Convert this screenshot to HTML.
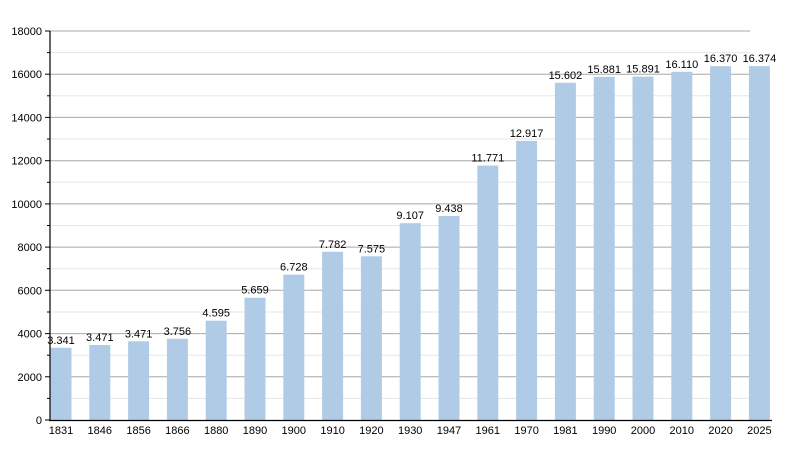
<!DOCTYPE html>
<html><head><style>body{margin:0;background:#fff}svg{display:block}text{font-family:"Liberation Sans",sans-serif;font-size:11px;fill:#000}</style></head>
<body>
<svg width="800" height="450" xmlns="http://www.w3.org/2000/svg">
<g stroke="#e6e6e6">
<line x1="50" x2="750" y1="398.4" y2="398.4"/><line x1="50" x2="750" y1="355.2" y2="355.2"/><line x1="50" x2="750" y1="312" y2="312"/><line x1="50" x2="750" y1="268.7" y2="268.7"/><line x1="50" x2="750" y1="225.5" y2="225.5"/><line x1="50" x2="750" y1="182.3" y2="182.3"/><line x1="50" x2="750" y1="139" y2="139"/><line x1="50" x2="750" y1="95.8" y2="95.8"/><line x1="50" x2="750" y1="52.6" y2="52.6"/>
</g>
<g stroke="#a8a8a8">
<line x1="50" x2="750" y1="376.8" y2="376.8"/><line x1="50" x2="750" y1="333.6" y2="333.6"/><line x1="50" x2="750" y1="290.3" y2="290.3"/><line x1="50" x2="750" y1="247.1" y2="247.1"/><line x1="50" x2="750" y1="203.9" y2="203.9"/><line x1="50" x2="750" y1="160.7" y2="160.7"/><line x1="50" x2="750" y1="117.4" y2="117.4"/><line x1="50" x2="750" y1="74.2" y2="74.2"/><line x1="50" x2="750" y1="31" y2="31"/>
</g>
<g fill="#b0cbe5">
<rect x="50.5" y="347.8" width="21" height="72.2"/>
<rect x="89.3" y="345" width="21" height="75"/>
<rect x="128.1" y="341.3" width="21" height="78.7"/>
<rect x="166.9" y="338.8" width="21" height="81.2"/>
<rect x="205.7" y="320.7" width="21" height="99.3"/>
<rect x="244.5" y="297.7" width="21" height="122.3"/>
<rect x="283.3" y="274.6" width="21" height="145.4"/>
<rect x="322.1" y="251.8" width="21" height="168.2"/>
<rect x="360.9" y="256.3" width="21" height="163.7"/>
<rect x="399.7" y="223.2" width="21" height="196.8"/>
<rect x="438.5" y="216" width="21" height="204"/>
<rect x="477.3" y="165.6" width="21" height="254.4"/>
<rect x="516.1" y="140.9" width="21" height="279.1"/>
<rect x="554.9" y="82.8" width="21" height="337.2"/>
<rect x="593.7" y="76.8" width="21" height="343.2"/>
<rect x="632.5" y="76.6" width="21" height="343.4"/>
<rect x="671.3" y="71.8" width="21" height="348.2"/>
<rect x="710.1" y="66.2" width="21" height="353.8"/>
<rect x="748.9" y="66.1" width="21" height="353.9"/>
</g>
<g text-anchor="middle">
<text x="61" y="343.8">3.341</text><text x="99.8" y="341">3.471</text><text x="138.6" y="337.3">3.471</text><text x="177.4" y="334.8">3.756</text><text x="216.2" y="316.7">4.595</text><text x="255" y="293.7">5.659</text><text x="293.8" y="270.6">6.728</text><text x="332.6" y="247.8">7.782</text><text x="371.4" y="252.3">7.575</text><text x="410.2" y="219.2">9.107</text><text x="449" y="212">9.438</text><text x="487.8" y="161.6">11.771</text><text x="526.6" y="136.9">12.917</text><text x="565.4" y="78.8">15.602</text><text x="604.2" y="72.8">15.881</text><text x="643" y="72.6">15.891</text><text x="681.8" y="67.8">16.110</text><text x="720.6" y="62.2">16.370</text><text x="759.4" y="62.1">16.374</text>
<text x="61" y="434">1831</text><text x="99.8" y="434">1846</text><text x="138.6" y="434">1856</text><text x="177.4" y="434">1866</text><text x="216.2" y="434">1880</text><text x="255" y="434">1890</text><text x="293.8" y="434">1900</text><text x="332.6" y="434">1910</text><text x="371.4" y="434">1920</text><text x="410.2" y="434">1930</text><text x="449" y="434">1947</text><text x="487.8" y="434">1961</text><text x="526.6" y="434">1970</text><text x="565.4" y="434">1981</text><text x="604.2" y="434">1990</text><text x="643" y="434">2000</text><text x="681.8" y="434">2010</text><text x="720.6" y="434">2020</text><text x="759.4" y="434">2025</text>
</g>
<g text-anchor="end">
<text x="42" y="424">0</text><text x="42" y="380.8">2000</text><text x="42" y="337.6">4000</text><text x="42" y="294.3">6000</text><text x="42" y="251.1">8000</text><text x="42" y="207.9">10000</text><text x="42" y="164.7">12000</text><text x="42" y="121.4">14000</text><text x="42" y="78.2">16000</text><text x="42" y="35">18000</text>
</g>
<g stroke="#000">
<line x1="45" x2="50" y1="420" y2="420"/><line x1="45" x2="50" y1="376.8" y2="376.8"/><line x1="45" x2="50" y1="333.6" y2="333.6"/><line x1="45" x2="50" y1="290.3" y2="290.3"/><line x1="45" x2="50" y1="247.1" y2="247.1"/><line x1="45" x2="50" y1="203.9" y2="203.9"/><line x1="45" x2="50" y1="160.7" y2="160.7"/><line x1="45" x2="50" y1="117.4" y2="117.4"/><line x1="45" x2="50" y1="74.2" y2="74.2"/><line x1="45" x2="50" y1="31" y2="31"/>
<line x1="47" x2="50" y1="398.4" y2="398.4"/><line x1="47" x2="50" y1="355.2" y2="355.2"/><line x1="47" x2="50" y1="312" y2="312"/><line x1="47" x2="50" y1="268.7" y2="268.7"/><line x1="47" x2="50" y1="225.5" y2="225.5"/><line x1="47" x2="50" y1="182.3" y2="182.3"/><line x1="47" x2="50" y1="139" y2="139"/><line x1="47" x2="50" y1="95.8" y2="95.8"/><line x1="47" x2="50" y1="52.6" y2="52.6"/>
<line x1="50" x2="50" y1="31" y2="421" stroke-width="1.2"/>
<line x1="49" x2="772" y1="420.5" y2="420.5" stroke-width="1.2"/>
</g>
</svg>
</body></html>
